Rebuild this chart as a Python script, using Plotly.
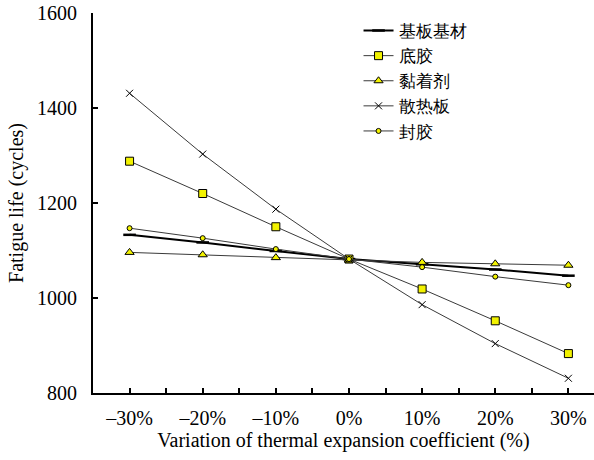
import plotly.graph_objects as go

x_vals = [-30, -20, -10, 0, 10, 20, 30]
tick_text = ["\u201330%", "\u201320%", "\u201310%", "0%", "10%", "20%", "30%"]

names = ["基板基材", "底胶", "黏着剂", "散热板", "封胶"]
substrate = [1133, 1117, 1099, 1082, 1071, 1060, 1047]
underfill = [1288, 1220, 1150, 1082, 1019, 952, 883]
adhesive = [1096, 1091, 1085, 1080, 1075, 1072, 1069]
heatsink = [1431, 1303, 1187, 1082, 986, 904, 831]
sealant = [1147, 1126, 1103, 1082, 1065, 1045, 1027]

FONT = "Liberation Serif"
YEL = "#F2F200"

fig = go.Figure()
fig.add_trace(go.Scatter(x=x_vals, y=substrate, name=names[0], mode="lines+markers",
                         line=dict(color="black", width=2),
                         marker=dict(symbol="line-ew", size=9, line=dict(color="black", width=2.5))))
fig.add_trace(go.Scatter(x=x_vals, y=underfill, name=names[1], mode="lines+markers",
                         line=dict(color="#3a3a3a", width=1),
                         marker=dict(symbol="square", size=8, color=YEL, line=dict(color="black", width=1))))
fig.add_trace(go.Scatter(x=x_vals, y=adhesive, name=names[2], mode="lines+markers",
                         line=dict(color="#3a3a3a", width=1),
                         marker=dict(symbol="triangle-up", size=8, color=YEL, line=dict(color="black", width=1))))
fig.add_trace(go.Scatter(x=x_vals, y=heatsink, name=names[3], mode="lines+markers",
                         line=dict(color="#3a3a3a", width=1),
                         marker=dict(symbol="x-thin", size=7, color="black", line=dict(color="black", width=1))))
fig.add_trace(go.Scatter(x=x_vals, y=sealant, name=names[4], mode="lines+markers",
                         line=dict(color="#3a3a3a", width=1),
                         marker=dict(symbol="circle", size=5, color=YEL, line=dict(color="black", width=1))))

fig.update_layout(
    width=594, height=460,
    margin=dict(l=93, r=0, t=13, b=67),
    paper_bgcolor="white", plot_bgcolor="white",
    font=dict(family=FONT, size=20, color="black"),
    showlegend=True,
    legend=dict(x=0.53, y=1.0, xanchor="left", yanchor="top",
                font=dict(family=FONT, size=17, color="black"),
                bgcolor="rgba(0,0,0,0)", tracegroupgap=0, itemwidth=30),
    xaxis=dict(range=[-35, 33.5], tickvals=x_vals, ticktext=tick_text,
               showgrid=False, zeroline=False, showline=True, linecolor="black", linewidth=2,
               ticks="inside", ticklen=5, tickwidth=2, tickcolor="black",
               minor=dict(tickmode="linear", tick0=-35, dtick=5, ticks="inside", ticklen=5,
                          tickwidth=2, tickcolor="black", showgrid=False),
               ticklabelstandoff=6,
               tickfont=dict(family=FONT, size=20),
               title=dict(text="Variation of thermal expansion coefficient (%)", standoff=4,
                          font=dict(family=FONT, size=20))),
    yaxis=dict(range=[800, 1600], tickvals=[800, 1000, 1200, 1400, 1600],
               showgrid=False, zeroline=False, showline=True, linecolor="black", linewidth=2,
               ticks="inside", ticklen=5, tickwidth=2, tickcolor="black",
               ticklabelstandoff=10,
               tickfont=dict(family=FONT, size=20),
               title=dict(text="Fatigue life (cycles)", standoff=8,
                          font=dict(family=FONT, size=20))),
)

fig.write_html("out.html")
